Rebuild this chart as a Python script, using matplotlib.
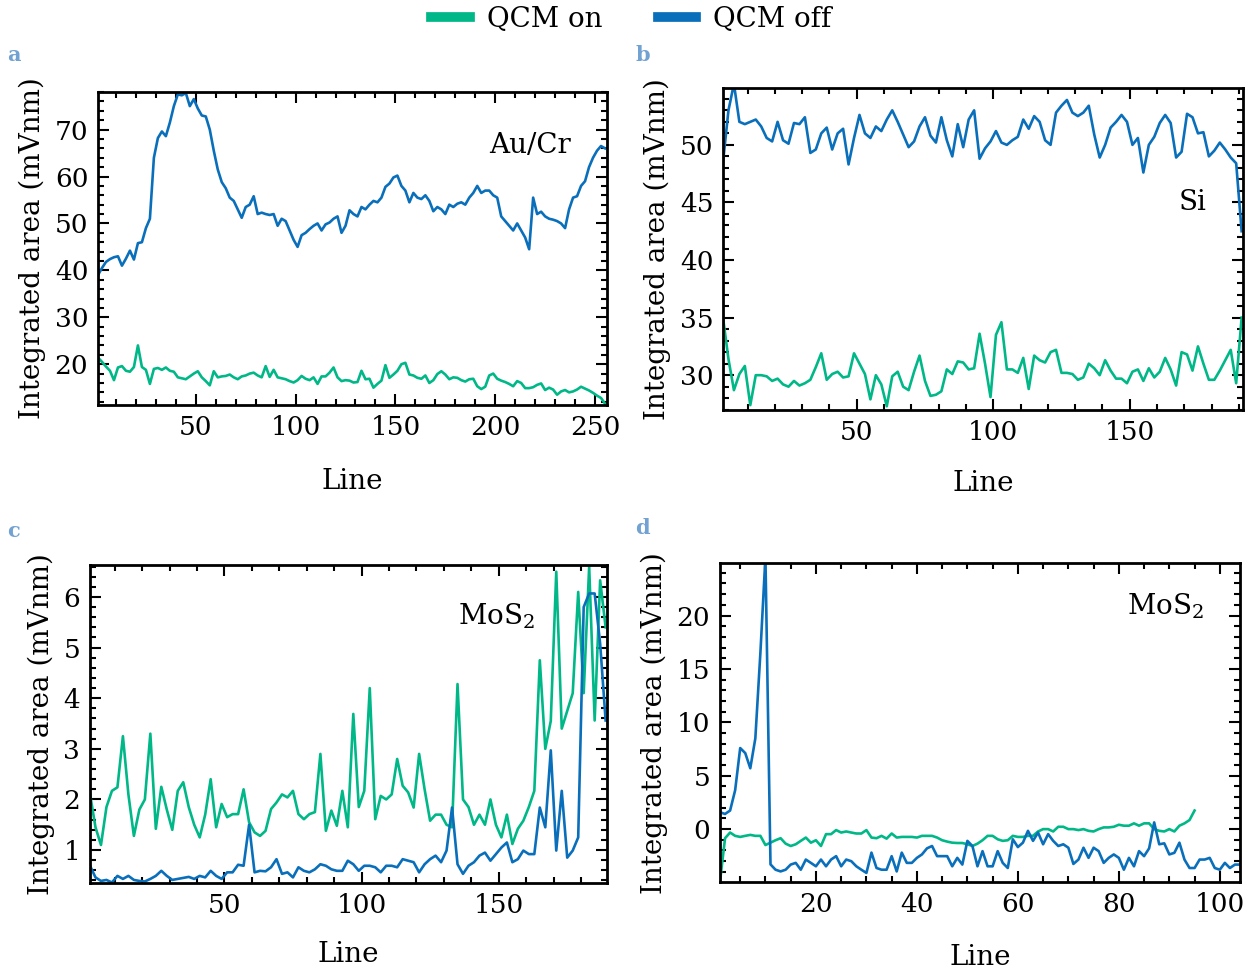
import numpy as np
import matplotlib
matplotlib.use("Agg")
import matplotlib.pyplot as plt
from matplotlib.ticker import MultipleLocator, AutoMinorLocator
from matplotlib.lines import Line2D

plt.rcParams['font.family'] = ['DejaVu Serif']
plt.rcParams['mathtext.fontset'] = 'dejavuserif'

GREEN = '#00b887'
BLUE = '#0a6fbb'
LETTER = '#72a2d2'

# panel a: Au/Cr, lines 1..255 (every second line)
a_x = np.arange(1, 257, 2)
a_off = [39.0, 40.5, 41.8, 42.4, 42.8, 43.0, 41.0, 42.5, 44.2, 42.3,
         45.8, 46.0, 49.0, 51.0, 64.0, 68.2, 69.6, 68.6, 71.5, 75.0,
         77.5, 77.3, 77.8, 75.0, 76.5, 74.5, 73.0, 72.8, 70.0, 65.5,
         61.5, 58.8, 57.5, 55.5, 54.8, 53.0, 51.2, 53.5, 54.0, 55.8,
         52.0, 52.3, 52.0, 51.8, 52.0, 49.5, 51.0, 50.5, 48.5, 46.5,
         45.0, 47.5, 48.0, 48.8, 49.5, 50.0, 48.5, 49.8, 50.2, 51.0,
         51.5, 48.0, 49.5, 52.8, 52.0, 51.5, 53.5, 53.0, 54.0, 54.8,
         54.5, 55.5, 57.8, 58.5, 59.8, 60.2, 58.0, 57.0, 54.5, 56.5,
         55.5, 55.2, 56.0, 54.8, 52.6, 53.5, 53.0, 52.0, 54.0, 53.5,
         54.2, 54.5, 54.0, 55.5, 56.5, 58.0, 56.5, 57.0, 57.0, 56.0,
         55.5, 51.5, 50.5, 49.5, 48.5, 50.0, 48.5, 47.0, 44.5, 55.5,
         52.0, 52.5, 51.5, 51.0, 50.8, 50.5, 50.0, 49.0, 53.0, 55.5,
         55.8, 58.0, 59.0, 62.0, 64.0, 65.5, 66.5, 66.0]
a_on = [21.4, 20.5, 19.5, 18.6, 16.6, 19.3, 19.6, 18.6, 18.4, 19.4,
        24.0, 19.4, 18.8, 15.8, 19.0, 19.2, 18.8, 19.3, 18.6, 18.4,
        17.2, 17.0, 16.8, 17.4, 18.0, 18.5, 17.2, 16.4, 15.5, 18.5,
        17.2, 17.4, 17.5, 17.8, 17.2, 16.8, 17.4, 17.6, 18.0, 18.2,
        17.6, 17.2, 19.6, 17.3, 18.8, 17.2, 17.0, 16.8, 16.4, 16.1,
        16.6, 17.5, 16.9, 16.6, 17.2, 15.8, 17.4, 17.4, 18.2, 19.3,
        17.2, 16.4, 16.6, 16.5, 16.1, 16.2, 18.6, 16.8, 16.9, 15.0,
        15.8, 16.5, 19.8, 17.1, 17.8, 18.6, 20.0, 20.3, 17.8, 17.6,
        17.1, 16.9, 17.6, 16.0, 16.6, 17.9, 18.5, 17.8, 16.8, 17.2,
        17.1, 16.6, 16.3, 16.8, 16.9, 15.3, 14.7, 15.2, 17.6, 18.0,
        16.9, 16.5, 16.2, 15.8, 15.3, 16.4, 16.0, 14.9, 14.9, 15.1,
        15.6, 15.9, 14.5, 15.0, 14.6, 13.5, 14.2, 14.5, 14.0, 14.2,
        14.6, 15.2, 14.8, 14.4, 13.9, 13.3, 12.8, 11.6]

# panel b: Si
b_x = np.arange(1, 193, 2)
b_off = [48.5, 53.0, 55.3, 52.0, 51.8, 52.0, 52.2, 51.6, 50.6, 50.3,
         52.0, 50.4, 50.1, 51.9, 51.8, 52.4, 49.3, 49.6, 51.0, 51.5,
         49.6, 51.0, 51.4, 48.3, 50.6, 52.6, 51.0, 50.6, 51.6, 51.2,
         52.2, 53.0, 52.0, 50.9, 49.8, 50.3, 51.6, 52.4, 50.8, 50.2,
         52.4, 50.4, 49.0, 51.8, 49.8, 52.2, 53.0, 48.8, 49.7, 50.3,
         51.2, 50.2, 50.0, 50.4, 50.7, 52.2, 51.4, 52.5, 52.0, 50.4,
         50.0, 52.8, 53.4, 53.9, 52.8, 52.5, 52.8, 53.4, 50.9, 48.9,
         50.0, 51.5, 52.0, 52.6, 52.0, 50.0, 50.6, 47.6, 50.0, 50.7,
         51.9, 52.6, 51.9, 48.9, 49.4, 52.7, 52.4, 51.0, 51.1, 49.0,
         49.5, 50.2, 49.6, 48.9, 48.4, 42.5]
b_on = [35.0, 31.4, 28.7, 30.1, 30.8, 27.4, 30.0, 30.0, 29.9, 29.5,
        29.7, 29.2, 29.0, 29.5, 29.1, 29.3, 29.6, 30.7, 31.9, 29.6,
        30.1, 30.3, 29.8, 29.9, 31.9, 31.0, 30.1, 27.9, 30.0, 29.2,
        27.3, 29.9, 30.3, 29.0, 28.7, 30.3, 31.7, 29.5, 28.2, 28.3,
        28.6, 30.5, 30.1, 31.2, 31.1, 30.5, 30.6, 33.6, 31.0, 28.1,
        33.5, 34.6, 30.5, 30.5, 30.2, 31.5, 28.8, 31.7, 31.3, 31.1,
        32.0, 32.2, 30.2, 30.2, 30.1, 29.6, 29.8, 31.0, 30.6, 30.0,
        31.3, 30.4, 29.7, 29.7, 29.3, 30.3, 30.5, 29.5, 30.6, 29.8,
        30.3, 31.5, 30.5, 29.1, 32.0, 31.8, 30.4, 32.5, 31.0, 29.6,
        29.6, 30.4, 31.3, 32.2, 29.3, 35.0]

# panel c: MoS2
c_x = np.arange(1, 190, 2)
c_on = [2.11, 1.45, 1.10, 1.85, 2.17, 2.24, 3.25, 2.10, 1.28, 1.80,
        2.00, 3.30, 1.42, 2.25, 1.80, 1.40, 2.17, 2.34, 1.85, 1.50,
        1.25, 1.70, 2.40, 1.45, 1.91, 1.65, 1.71, 1.71, 2.20, 1.55,
        1.35, 1.28, 1.38, 1.81, 1.94, 2.10, 2.04, 2.17, 1.71, 1.61,
        1.71, 1.75, 2.90, 1.38, 1.78, 1.48, 2.17, 1.45, 3.69, 1.85,
        2.17, 4.20, 1.61, 2.07, 2.00, 2.10, 2.80, 2.27, 2.14, 1.84,
        2.90, 2.20, 1.58, 1.70, 1.70, 1.50, 1.45, 4.28, 2.00, 1.85,
        1.50, 1.70, 1.50, 2.00, 1.50, 1.25, 1.70, 1.12, 1.42, 1.58,
        1.85, 2.17, 4.75, 3.00, 3.55, 6.50, 3.40, 3.75, 4.10, 6.10,
        4.10, 6.60, 3.56, 6.33, 5.40]
c_off = [0.69, 0.46, 0.39, 0.41, 0.36, 0.49, 0.43, 0.49, 0.41, 0.39,
         0.38, 0.43, 0.49, 0.59, 0.49, 0.41, 0.43, 0.45, 0.47, 0.43,
         0.49, 0.46, 0.59, 0.49, 0.43, 0.56, 0.56, 0.71, 0.69, 1.50,
         0.56, 0.59, 0.58, 0.66, 0.82, 0.53, 0.56, 0.46, 0.66, 0.59,
         0.56, 0.62, 0.72, 0.69, 0.62, 0.59, 0.59, 0.79, 0.72, 0.59,
         0.69, 0.69, 0.66, 0.56, 0.69, 0.69, 0.66, 0.82, 0.79, 0.76,
         0.56, 0.72, 0.82, 0.89, 0.76, 0.99, 1.84, 0.72, 0.53, 0.69,
         0.76, 0.89, 0.95, 0.79, 0.92, 1.05, 1.15, 0.76, 0.82, 0.99,
         0.92, 0.92, 1.84, 1.45, 2.97, 0.99, 2.17, 0.85, 0.99, 1.25,
         5.80, 6.07, 6.07, 5.08, 3.56]

# panel d: MoS2, second sample
d_x_off = np.arange(1, 105)
d_off = [1.58, 1.42, 1.74, 3.64, 7.59, 7.12, 5.70, 8.50, 16.5, 25.5,
         -3.3, -3.8, -3.96, -3.8, -3.32, -3.16, -3.8, -2.85, -3.16, -3.48,
         -2.85, -3.48, -2.85, -2.53, -3.48, -2.85, -3.0, -3.48, -3.8, -4.1,
         -2.2, -3.64, -3.8, -3.8, -2.53, -3.96, -2.2, -3.16, -3.16, -2.69,
         -2.37, -1.8, -1.58, -2.53, -2.53, -2.53, -3.48, -2.69, -3.32, -1.1,
         -1.58, -3.48, -2.06, -3.48, -3.48, -2.06, -3.16, -3.64, -0.95, -1.68,
         -1.27, -0.16, -1.1, -0.32, -1.42, -0.47, -1.1, -1.58, -1.42, -1.74,
         -3.26, -2.85, -1.74, -2.69, -1.74, -2.06, -3.16, -2.69, -2.37, -2.69,
         -3.8, -2.69, -3.48, -2.06, -2.53, -1.8, 0.63, -1.42, -1.33, -2.37,
         -2.22, -1.27, -2.85, -3.64, -3.64, -2.85, -2.85, -2.69, -3.64, -3.8,
         -3.16, -3.64, -3.32, -3.32]
d_x_on = np.arange(1, 96)
d_on = [-4.9, -0.85, -0.32, -0.63, -0.73, -0.63, -0.54, -0.63, -0.63, -1.49,
        -1.27, -1.04, -0.85, -1.36, -1.58, -1.42, -1.1, -0.79, -1.27, -1.04,
        -1.58, -0.47, -0.47, -0.09, -0.32, -0.22, -0.32, -0.41, -0.41, -0.09,
        -0.79, -0.85, -0.63, -0.89, -0.41, -0.79, -0.73, -0.73, -0.73, -0.79,
        -0.63, -0.63, -0.63, -0.79, -1.04, -1.17, -1.27, -1.30, -1.30, -1.42,
        -1.58, -1.36, -1.04, -0.63, -0.63, -0.95, -1.1, -1.04, -0.63, -0.73,
        -0.73, -0.63, -0.63, -0.22, 0.0, 0.0, -0.22, 0.22, 0.22, 0.0,
        0.0, -0.09, 0.0, -0.16, -0.22, 0.0, 0.16, 0.16, 0.22, 0.41,
        0.32, 0.32, 0.54, 0.32, 0.54, 0.54, 0.0, -0.16, -0.22, 0.0,
        -0.22, 0.32, 0.54, 0.85, 1.74]

panels = [
    dict(rect=[0.0784, 0.5833, 0.4072, 0.322], letter='a', name='Au/Cr', tpos=(0.93, 0.83),
         x_on=a_x, y_on=a_on, x_off=a_x, y_off=a_off, xlim=(1, 256), ylim=(11.3, 78.0),
         xstep=50, ystep=10, xpad=20),
    dict(rect=[0.5784, 0.578, 0.416, 0.331], letter='b', name='Si', tpos=(0.93, 0.645),
         x_on=b_x, y_on=b_on, x_off=b_x, y_off=b_off, xlim=(1, 191.5), ylim=(26.96, 54.9),
         xstep=50, ystep=5, xpad=18),
    dict(rect=[0.072, 0.0916, 0.4136, 0.327], letter='c', name=r'MoS$_2$', tpos=(0.86, 0.84),
         x_on=c_x, y_on=c_on, x_off=c_x, y_off=c_off, xlim=(1, 189.5), ylim=(0.35, 6.63),
         xstep=50, ystep=1, xpad=17),
    dict(rect=[0.576, 0.0926, 0.416, 0.328], letter='d', name=r'MoS$_2$', tpos=(0.93, 0.865),
         x_on=d_x_on, y_on=d_on, x_off=d_x_off, y_off=d_off, xlim=(1, 104), ylim=(-4.95, 24.9),
         xstep=20, ystep=5, xpad=20),
]

fig = plt.figure(figsize=(12.5, 9.72), dpi=100)

letter_pos = {'a': (0.011, 0.943), 'b': (0.514, 0.943), 'c': (0.011, 0.454), 'd': (0.514, 0.457)}

for p in panels:
    ax = fig.add_axes(p['rect'])
    ax.plot(p['x_on'], p['y_on'], color=GREEN, lw=1.9)
    ax.plot(p['x_off'], p['y_off'], color=BLUE, lw=1.9)
    ax.set_xlim(*p['xlim'])
    ax.set_ylim(*p['ylim'])
    ax.xaxis.set_major_locator(MultipleLocator(p['xstep']))
    ax.yaxis.set_major_locator(MultipleLocator(p['ystep']))
    ax.xaxis.set_minor_locator(AutoMinorLocator())
    ax.yaxis.set_minor_locator(AutoMinorLocator())
    ax.tick_params(which='both', direction='in', top=True, right=True, width=1.5,
                   labelsize=19)
    ax.tick_params(which='major', length=8, pad=7)
    ax.tick_params(which='minor', length=4.5)
    for s in ax.spines.values():
        s.set_linewidth(2)
    ax.set_xlabel('Line', fontsize=20, labelpad=p['xpad'])
    ax.set_ylabel('Integrated area (mVnm)', fontsize=20, labelpad=6)
    ax.text(p['tpos'][0], p['tpos'][1], p['name'], transform=ax.transAxes,
            ha='right', va='center', fontsize=20)
    lx, ly = letter_pos[p['letter']]
    fig.text(lx, ly, p['letter'], color=LETTER, fontsize=15, fontweight='bold',
             ha='center', va='center')

handles = [Line2D([], [], color=GREEN, lw=7), Line2D([], [], color=BLUE, lw=7)]
fig.legend(handles, ['QCM on', 'QCM off'], loc='upper center', bbox_to_anchor=(0.505, 1.02),
           ncol=2, frameon=False, fontsize=20, handlelength=1.4, handletextpad=0.6,
           columnspacing=2.0)

fig.savefig('out.png', dpi=100)
